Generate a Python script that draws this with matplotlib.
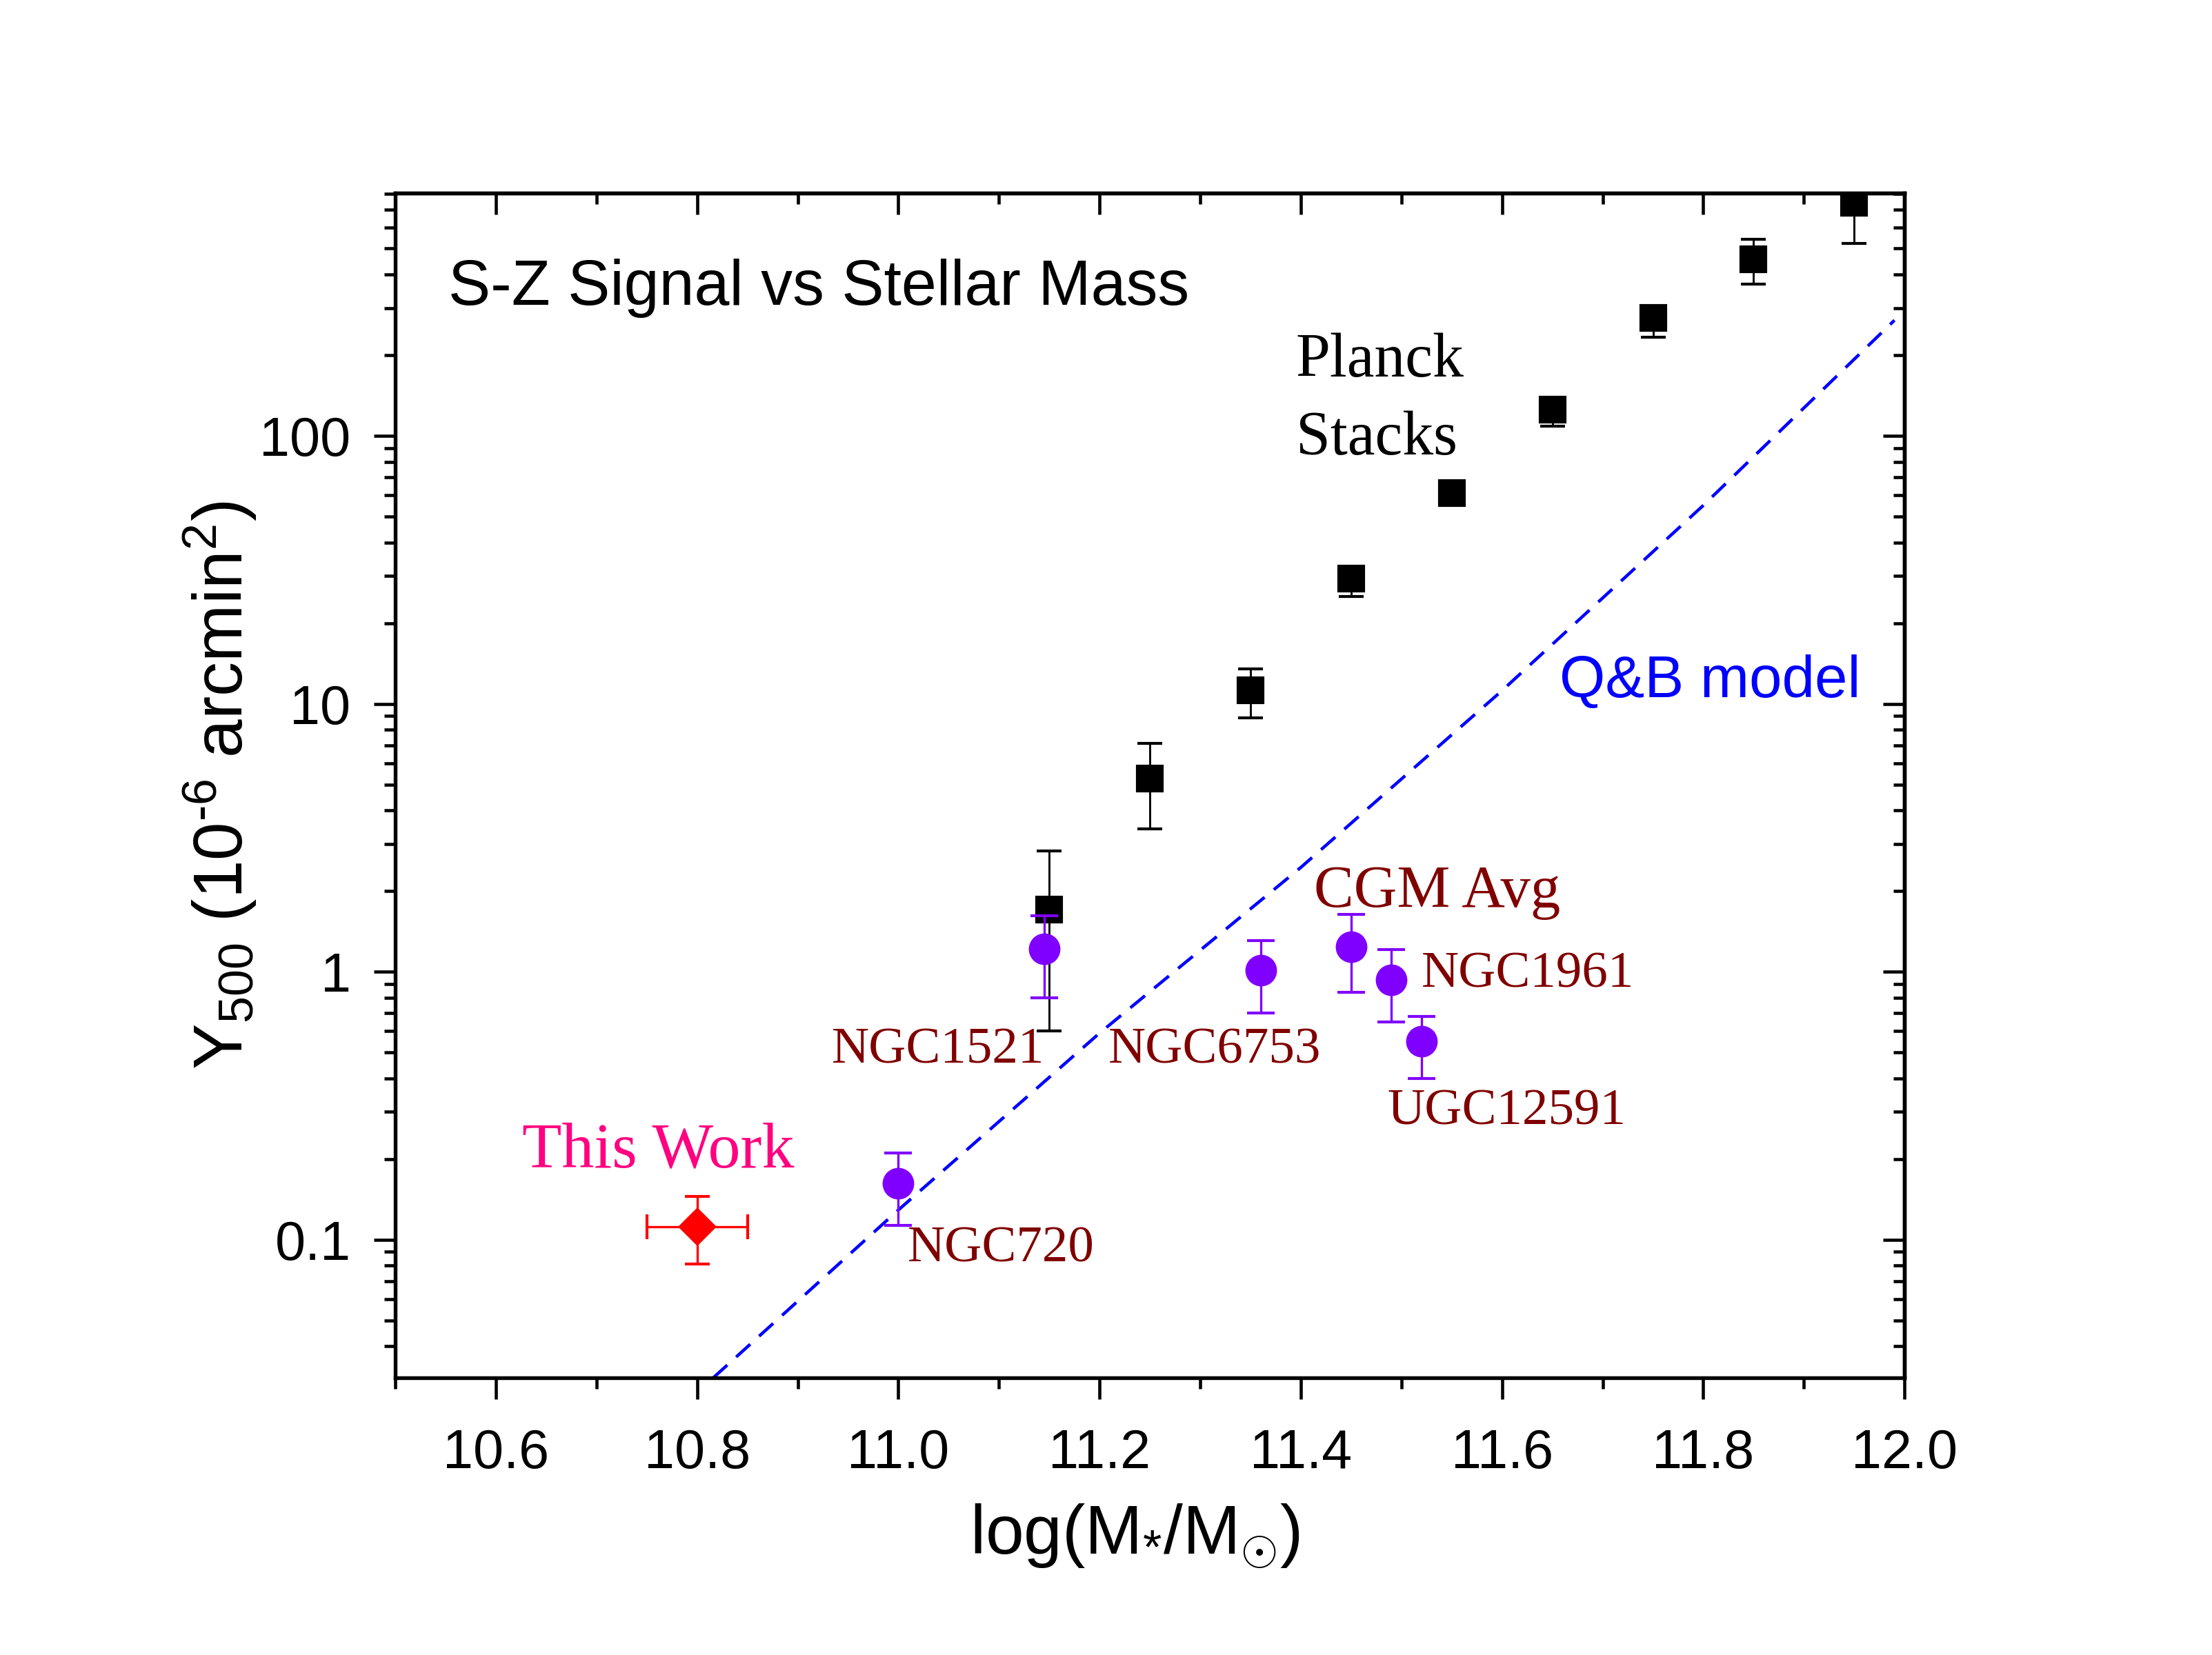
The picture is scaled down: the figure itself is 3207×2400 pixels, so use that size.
import numpy as np
import matplotlib
matplotlib.use("Agg")
import matplotlib.pyplot as plt
from matplotlib.ticker import MultipleLocator, LogLocator, NullFormatter, FixedLocator

plt.rcParams['font.family'] = ['Liberation Sans', 'DejaVu Sans']
plt.rcParams['mathtext.fontset'] = 'custom'
plt.rcParams['mathtext.rm'] = 'Liberation Sans'
plt.rcParams['mathtext.it'] = 'Liberation Sans:italic'
plt.rcParams['mathtext.bf'] = 'Liberation Sans:bold'

# Planck stacks
planck_x = [11.15, 11.25, 11.35, 11.45, 11.55, 11.65, 11.75, 11.85, 11.95]
planck_y = [1.71, 5.26, 11.2, 29.4, 61.0, 125.5, 275.0, 457.0, 743.0]
planck_lo = [0.60, 3.41, 8.85, 25.2, 58.0, 108.6, 234.0, 369.0, 524.0]
planck_hi = [2.82, 7.10, 13.5, 31.0, 64.0, 133.0, 300.0, 543.0, 1000.0]

# individual CGM measurements
cgm_names = ['NGC720', 'NGC1521', 'NGC6753', 'CGM Avg', 'NGC1961', 'UGC12591']
cgm_x = [11.00, 11.145, 11.36, 11.45, 11.49, 11.52]
cgm_y = [0.162, 1.22, 1.01, 1.24, 0.93, 0.55]
cgm_lo = [0.113, 0.80, 0.70, 0.84, 0.65, 0.40]
cgm_hi = [0.210, 1.62, 1.31, 1.64, 1.21, 0.68]

# this work
tw_x = [10.80]
tw_xerr = [0.05]
tw_y = [0.112]
tw_lo = [0.081]
tw_hi = [0.145]

# Q&B model curve
qb_x = [10.816, 11.0, 11.2, 11.4, 11.6, 11.8, 11.99]
qb_y = [0.0305, 0.129, 0.59, 2.45, 11.2, 55.0, 270.0]

fig = plt.figure(figsize=(3207 / 300, 2400 / 300), dpi=300)
ax = fig.add_axes([0.1787, 0.1675, 0.6823, 0.7158])

ax.plot(qb_x, qb_y, color='#0000FF', lw=1.1, ls=(0, (6, 3.8)))

py = np.array(planck_y)
ax.errorbar(planck_x, py, yerr=[py - np.array(planck_lo), np.array(planck_hi) - py],
            fmt='s', color='black', ms=8.6, elinewidth=0.7, capsize=4.3, capthick=1.0, zorder=3)

cy = np.array(cgm_y)
ax.errorbar(cgm_x, cy, yerr=[cy - np.array(cgm_lo), np.array(cgm_hi) - cy],
            fmt='o', color='#8000FF', ms=10, elinewidth=0.8, capsize=4.8, capthick=1.0, zorder=4)

ty = np.array(tw_y)
ax.errorbar(tw_x, ty, xerr=tw_xerr, yerr=[ty - np.array(tw_lo), np.array(tw_hi) - ty],
            fmt='D', color='#FF0000', ms=8.5, elinewidth=0.8, capsize=4.4, capthick=1.0, zorder=4)

ax.set_yscale('log')
ax.set_xlim(10.5, 12.0)
ax.set_ylim(0.0305, 805)

ax.xaxis.set_major_locator(MultipleLocator(0.2))
ax.xaxis.set_minor_locator(MultipleLocator(0.1))
ax.xaxis.set_major_formatter(matplotlib.ticker.FormatStrFormatter('%.1f'))
ax.yaxis.set_major_locator(FixedLocator([0.1, 1, 10, 100]))
ax.yaxis.set_major_formatter(matplotlib.ticker.FixedFormatter(['0.1', '1', '10', '100']))
ax.yaxis.set_minor_locator(LogLocator(base=10, subs=np.arange(2, 10)))
ax.yaxis.set_minor_formatter(NullFormatter())

for s in ax.spines.values():
    s.set_linewidth(1.3)
ax.tick_params(which='major', direction='out', length=7.5, width=1.1, labelsize=19)
ax.tick_params(which='minor', direction='out', length=3.8, width=1.1)
ax.tick_params(axis='x', which='major', pad=10)
ax.tick_params(axis='y', which='major', pad=8)

top = ax.secondary_xaxis('top')
top.xaxis.set_major_locator(MultipleLocator(0.2))
top.xaxis.set_minor_locator(MultipleLocator(0.1))
top.tick_params(which='major', direction='in', length=7.5, width=1.1, labeltop=False)
top.tick_params(which='minor', direction='in', length=3.8, width=1.1)
top.spines['top'].set_linewidth(1.3)

right = ax.secondary_yaxis('right')
right.yaxis.set_major_locator(FixedLocator([0.1, 1, 10, 100]))
right.yaxis.set_minor_locator(LogLocator(base=10, subs=np.arange(2, 10)))
right.yaxis.set_minor_formatter(NullFormatter())
right.tick_params(which='major', direction='in', length=7.5, width=1.1, labelright=False)
right.tick_params(which='minor', direction='in', length=3.8, width=1.1)
right.spines['right'].set_linewidth(1.3)

ax.set_xlabel(r'log(M$_{*}$/M$_{\odot}$)', fontsize=24)
ax.xaxis.set_label_coords(0.49, -0.105)
ax.set_ylabel('Y$_{\\mathrm{500}}$ (10$^{\\mathrm{\u20106}}$ arcmin$^{\\mathrm{2}}$)', fontsize=24)
ax.yaxis.set_label_coords(-0.09, 0.5)

serif = ['Liberation Serif', 'DejaVu Serif']
maroon = '#800000'
ax.text(10.553, 308, 'S-Z Signal vs Stellar Mass', fontsize=22, va='baseline')
ax.text(11.395, 166, 'Planck', fontsize=21.5, family=serif, va='baseline')
ax.text(11.395, 85, 'Stacks', fontsize=21.5, family=serif, va='baseline')
ax.text(11.657, 10.6, 'Q&B model', fontsize=20.5, color='#0000FF', va='baseline')
ax.text(10.626, 0.186, 'This Work', fontsize=22.5, family=serif, color='#FF0080', va='baseline')

lab_x = [11.009, 10.934, 11.209, 11.413, 11.52, 11.486]
lab_y = [0.083, 0.455, 0.455, 1.75, 0.875, 0.270]
lab_size = [18, 18, 18, 20.8, 18, 18]
for name, lx, ly, fs in zip(cgm_names, lab_x, lab_y, lab_size):
    ax.text(lx, ly, name, fontsize=fs, family=serif, color=maroon, va='baseline')

fig.savefig('out.png', dpi=300)
